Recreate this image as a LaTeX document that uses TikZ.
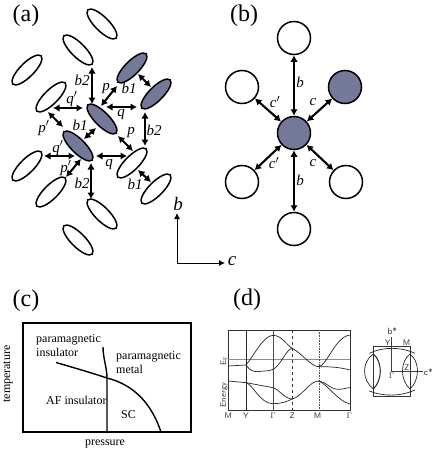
\documentclass[tikz,border=0pt]{standalone}
\usepackage{fontspec}
\setmainfont{Liberation Serif}
\usetikzlibrary{shapes.geometric,arrows.meta,calc}
\definecolor{slate}{HTML}{74799A}
\tikzset{
 elw/.style={ellipse,draw=black,line width=1.5pt,fill=white,minimum width=40pt,minimum height=14pt,inner sep=0pt},
 up/.style={elw,rotate=45},
 dn/.style={elw,rotate=-45},
 shd/.style={fill=slate},
 dbl/.style={line width=2.1pt,{Latex[length=6.5pt,width=7.5pt]}-{Latex[length=6.5pt,width=7.5pt]}},
 disc/.style={circle,draw=black,line width=1.5pt,fill=white,minimum size=33pt,inner sep=0pt},
 lab/.style={font=\fontsize{15}{15}\selectfont\itshape,inner sep=0pt},
 panel/.style={font=\fontsize{24}{24}\selectfont,inner sep=0pt},
 txt/.style={font=\fontsize{12}{13}\selectfont,inner sep=0pt},
 band/.style={line width=.7pt,black!85},
 tick/.style={font=\fontsize{8}{8}\selectfont\sffamily,inner sep=0pt,black!80},
}
\begin{document}
\begin{tikzpicture}[x=1pt,y=-1pt]
\useasboundingbox (0,0) rectangle (436,450);
% panel a
\node[panel] (la) at (26,16) {(a)};
\node[dn] (e1) at (102,24) {};
\node[dn] (e2) at (78,50) {};
\node[up] (e3) at (27,70) {};
\node[up,shd] (e4) at (132,68) {};
\node[up,shd] (e5) at (156,94) {};
\node[up] (e6) at (51,97) {};
\node[dn,shd] (e7) at (102,119) {};
\node[dn,shd] (e8) at (78,146) {};
\node[up] (e9) at (132,163) {};
\node[up] (e10) at (27,166) {};
\node[up] (e11) at (51,192) {};
\node[up] (e12) at (156,189) {};
\node[dn] (e13) at (102,214) {};
\node[dn] (e14) at (78,240) {};
\coordinate (a1) at (92,67); \coordinate (a2) at (92,104);
\coordinate (a3) at (117,86); \coordinate (a4) at (101,106);
\coordinate (a5) at (138,74); \coordinate (a6) at (151,87);
\coordinate (a7) at (106,107); \coordinate (a8) at (137,107);
\coordinate (a9) at (53,108); \coordinate (a10) at (83,108);
\coordinate (a11) at (48,112); \coordinate (a12) at (63,127);
\coordinate (a13) at (96,128); \coordinate (a14) at (84,139);
\coordinate (a15) at (118,136); \coordinate (a16) at (133,151);
\coordinate (a17) at (145,112); \coordinate (a18) at (145,146);
\coordinate (a19) at (96,156); \coordinate (a20) at (127,156);
\coordinate (a21) at (44,156); \coordinate (a22) at (75,156);
\coordinate (a23) at (81,159); \coordinate (a24) at (66,177);
\coordinate (a25) at (91,163); \coordinate (a26) at (91,199);
\coordinate (a27) at (138,170); \coordinate (a28) at (151,182);
\foreach \s/\t in {a1/a2,a3/a4,a5/a6,a7/a8,a9/a10,a11/a12,a13/a14,a15/a16,a17/a18,a19/a20,a21/a22,a23/a24,a25/a26,a27/a28}
  \draw[dbl] (\s) -- (\t);
\node[lab] at (82,80) {b2};
\node[lab] at (106,89) {p};
\node[lab] at (129,88) {b1};
\node[lab] at (72,99) {q$'$};
\node[lab] at (121,115) {q};
\node[lab] at (44,128) {p$'$};
\node[lab] at (80,125) {b1};
\node[lab] at (131,133) {p};
\node[lab] at (154,130) {b2};
\node[lab] at (58,148) {q$'$};
\node[lab] at (109,165) {q};
\node[lab] at (66,168) {p$'$};
\node[lab] at (82,183) {b2};
\node[lab] at (135,184) {b1};
% axes
\coordinate (o) at (177,263);
\coordinate (ab) at (177,213);
\coordinate (ac) at (225,263);
\draw[line width=.9pt,-{Latex[length=6pt,width=6pt]}] (o) -- (ab);
\draw[line width=.9pt,-{Latex[length=6pt,width=6pt]}] (o) -- (ac);
\node[lab,font=\fontsize{19}{19}\selectfont\itshape] (nb) at (178,204) {b};
\node[lab,font=\fontsize{19}{19}\selectfont\itshape] (nc) at (232,261) {c};
% panel b
\node[panel] (lb) at (244,16) {(b)};
\node[disc] (t) at (294,38) {};
\node[disc] (ul) at (242,87) {};
\node[disc,shd] (ur) at (345,87) {};
\node[disc,shd] (c) at (294,133) {};
\node[disc] (ll) at (242,182) {};
\node[disc] (lr) at (346,182) {};
\node[disc] (bt) at (294,229) {};
\foreach \o in {t,ul,ur,ll,lr,bt} \draw[dbl] (\o) -- (c);
\node[lab] at (300,82) {b};
\node[lab] at (275,102) {c$'$};
\node[lab] at (313,102) {c};
\node[lab] at (274,163) {c$'$};
\node[lab] at (313,163) {c};
\node[lab] at (300,180) {b};
% panel c
\node[panel] (lc) at (26,301) {(c)};
\node[draw=black,line width=1.4pt,minimum width=168pt,minimum height=109pt,inner sep=0pt] (box) at (107,377.5) {};
\coordinate (c1) at (56,362.5); \coordinate (c2) at (107,378); \coordinate (c3) at (161,432);
\coordinate (v1) at (103,347); \coordinate (v2) at (107,432);
\draw[line width=1.4pt] (c1) .. controls (75,368) and (92,373) .. (c2) .. controls (135,385) and (152,405) .. (c3);
\draw[line width=1.4pt] (v1) .. controls (103,358) and (107,368) .. (c2) -- (v2);
\node[txt,anchor=base west] at (36,342) {paramagnetic};
\node[txt,anchor=base west] at (36,356) {insulator};
\node[txt,anchor=base west] at (116,359) {paramagnetic};
\node[txt,anchor=base west] at (116,373) {metal};
\node[txt,anchor=base west] at (46,404) {AF insulator};
\node[txt,anchor=base west] at (121,418) {SC};
\node[txt] at (105,444) {pressure};
\node[txt,rotate=90] at (8,374) {temperature};
% panel d
\node[panel] (ld) at (247,300) {(d)};
\begin{scope}[shift={(210,285)},x=.3333pt,y=-.3333pt]
\draw[black!80,line width=.7pt] (55,135) rectangle (420,375);
\draw[black!45,line width=1pt] (55,225) -- (420,225);
\draw[black!85,line width=.7pt] (108,135) -- (108,375);
\draw[black!70,line width=.6pt] (189,135) -- (189,375);
\draw[black!80,line width=.6pt,dashed] (247,135) -- (247,375);
\draw[black!70,line width=.6pt,densely dotted] (327,135) -- (327,375);
\draw[band] (55,243) -- (108,240) .. controls (130,215) and (160,151) .. (189,151) .. controls (215,151) and (230,180) .. (247,190) .. controls (275,205) and (305,245) .. (325,245) .. controls (350,245) and (375,155) .. (420,150);
\draw[band] (108,240) .. controls (118,255) and (130,260) .. (140,260) .. controls (160,258) and (180,258) .. (189,253) .. controls (210,245) and (230,190) .. (247,190);
\draw[band] (325,245) .. controls (345,245) and (385,245) .. (420,255);
\draw[band] (55,288) -- (108,293) -- (189,308) .. controls (205,312) and (225,342) .. (247,342) .. controls (275,335) and (300,288) .. (325,288) .. controls (345,288) and (360,313) .. (385,313) .. controls (400,313) and (410,308) .. (420,308);
\draw[band] (108,293) .. controls (130,300) and (150,356) .. (189,356) .. controls (215,356) and (230,350) .. (247,342);
\draw[band] (325,288) .. controls (350,295) and (385,350) .. (420,357);
\node[tick,rotate=90] at (42,228) {E$_{\mathrm F}$};
\node[tick,rotate=90] at (42,330) {Energy};
\foreach \xx/\s in {55/M,108/Y,189/$\Gamma$,247/Z,323/M,418/$\Gamma$} \node[tick] at (\xx,393) {\s};
% fermi surface
\draw[black!80,line width=.7pt] (490,185) rectangle (602,335);
\draw[black!75,line width=.6pt] (545,155) -- (545,258) -- (640,258);
\draw[band] (478,205) .. controls (520,185) and (570,185) .. (615,205);
\draw[band] (478,318) .. controls (520,335) and (570,335) .. (615,315);
\draw[band] (490,207) .. controls (455,230) and (455,285) .. (490,312);
\draw[band,line width=1pt] (490,207) .. controls (518,230) and (518,285) .. (490,312);
\draw[band] (600,207) .. controls (570,230) and (570,285) .. (600,312);
\draw[band] (600,207) .. controls (630,230) and (630,285) .. (600,312);
\node[tick,font=\fontsize{9}{9}\selectfont\sffamily] at (547,140) {b*};
\node[tick] at (533,172) {Y};
\node[tick] at (590,172) {M};
\node[tick] at (545,273) {$\Gamma$};
\node[tick] at (590,248) {Z};
\node[tick,font=\fontsize{9}{9}\selectfont\sffamily] at (655,262) {c*};
\end{scope}
\end{tikzpicture}
\end{document}
